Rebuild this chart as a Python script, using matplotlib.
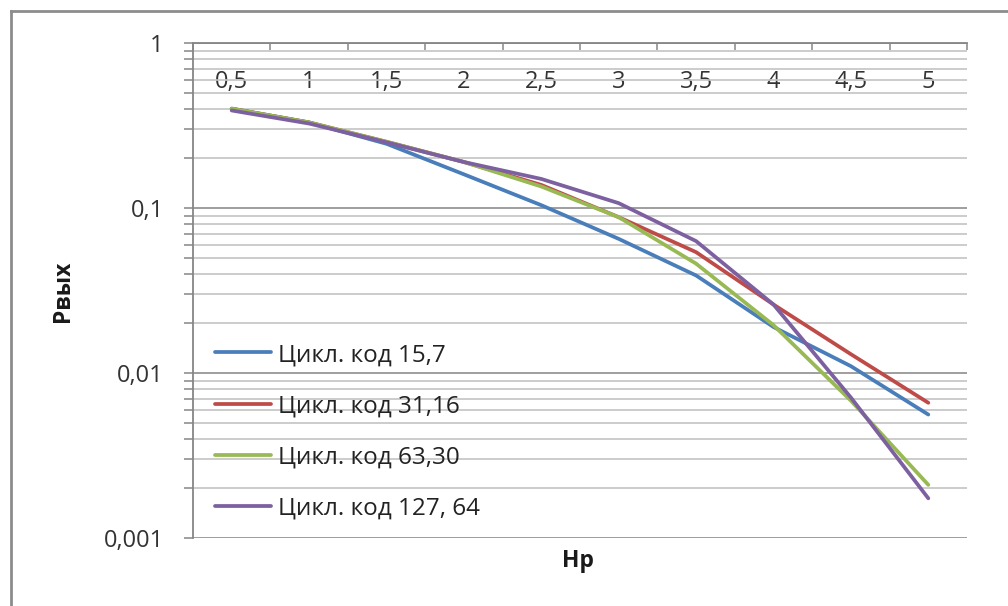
import numpy as np
import matplotlib
matplotlib.use('Agg')
import matplotlib.pyplot as plt
from matplotlib.lines import Line2D
from matplotlib.ticker import LogLocator, FixedLocator, NullFormatter

plt.rcParams['font.family'] = ['Open Sans', 'DejaVu Sans']

# Нр values (category axis) and output probability for each cyclic code
hp_labels = ['0,5', '1', '1,5', '2', '2,5', '3', '3,5', '4', '4,5', '5']
p_15_7 = [0.40, 0.33, 0.245, 0.16, 0.104, 0.065, 0.039, 0.0190, 0.011, 0.0056]
p_31_16 = [0.40, 0.33, 0.252, 0.19, 0.138, 0.088, 0.054, 0.026, 0.013, 0.0066]
p_63_30 = [0.40, 0.33, 0.252, 0.19, 0.135, 0.088, 0.046, 0.0195, 0.0068, 0.0021]
p_127_64 = [0.39, 0.325, 0.25, 0.19, 0.150, 0.107, 0.063, 0.026, 0.0071, 0.00174]

series = [
    ('Цикл. код 15,7', p_15_7, '#4a7ebb'),
    ('Цикл. код 31,16', p_31_16, '#be4b48'),
    ('Цикл. код 63,30', p_63_30, '#98b954'),
    ('Цикл. код 127, 64', p_127_64, '#7d60a0'),
]

fig = plt.figure(figsize=(10.08, 6.06), dpi=100)
ax = fig.add_axes([193 / 1008, 1 - 538 / 606, (967 - 193) / 1008, (538 - 43) / 606])

xpos = np.arange(len(hp_labels)) + 0.5
for name, vals, col in series:
    ax.plot(xpos, vals, color=col, lw=2.7, label=name,
            solid_joinstyle='round', solid_capstyle='round', zorder=3)

ax.set_yscale('log')
ax.set_ylim(0.001, 1)
ax.set_xlim(0, len(hp_labels))

# y axis: decades with minor gridlines
ax.yaxis.set_major_locator(LogLocator(base=10, numticks=10))
ax.yaxis.set_minor_locator(LogLocator(base=10, subs=np.arange(2, 10), numticks=10))
ax.yaxis.set_minor_formatter(NullFormatter())
ax.set_yticks([0.001, 0.01, 0.1, 1])
ax.set_yticklabels(['0,001', '0,01', '0,1', '1'])
ax.grid(True, which='major', axis='y', color='#969696', lw=1.3, zorder=1)
ax.grid(True, which='minor', axis='y', color='#c4c4c4', lw=1.2, zorder=1)
ax.tick_params(axis='y', which='both', direction='out', length=6.5, width=1.1,
               color='#868686', labelsize=17, labelcolor='#333333', pad=14.5)

# x axis sits at the top (y = 1); labels hang below it inside the plot
ax.xaxis.tick_top()
ax.xaxis.set_major_locator(FixedLocator(np.arange(len(hp_labels) + 1)))
ax.xaxis.set_major_formatter(NullFormatter())
ax.xaxis.set_minor_locator(FixedLocator(xpos))
ax.set_xticklabels(hp_labels, minor=True)
ax.tick_params(axis='x', which='major', direction='in', length=5, width=1.1,
               color='#868686', top=True, bottom=False)
ax.tick_params(axis='x', which='minor', length=0, top=True, bottom=False,
               labeltop=True, labelbottom=False, labelsize=17,
               labelcolor='#333333', pad=-37)

for s in ['right', 'bottom']:
    ax.spines[s].set_visible(False)
for s in ['left', 'top']:
    ax.spines[s].set_color('#868686')
    ax.spines[s].set_linewidth(1.3)

fig.text(578 / 1008, 1 - 561 / 606, 'Нр', ha='center', va='center',
         fontsize=16.5, fontweight='bold', color='#1a1a1a')
fig.text(63 / 1008, 1 - 291 / 606, 'Рвых', ha='center', va='center',
         rotation=90, fontsize=16.5, fontweight='bold', color='#1a1a1a')

ax.legend(loc='upper left', bbox_to_anchor=(215 / 1008, 1 - 343 / 606),
          bbox_transform=fig.transFigure, frameon=False, fontsize=17.5,
          handlelength=2.3, handletextpad=0.3, labelspacing=1.12,
          borderpad=0, borderaxespad=0, labelcolor='#222222')

# outer chart border (top and left edges)
fig.add_artist(Line2D([11 / 1008, 1.0], [1 - 11 / 606, 1 - 11 / 606],
                      transform=fig.transFigure, color='#8c8c8c', lw=2))
fig.add_artist(Line2D([11 / 1008, 11 / 1008], [0.0, 1 - 11 / 606],
                      transform=fig.transFigure, color='#8c8c8c', lw=2))

fig.savefig('out.png', dpi=100)
